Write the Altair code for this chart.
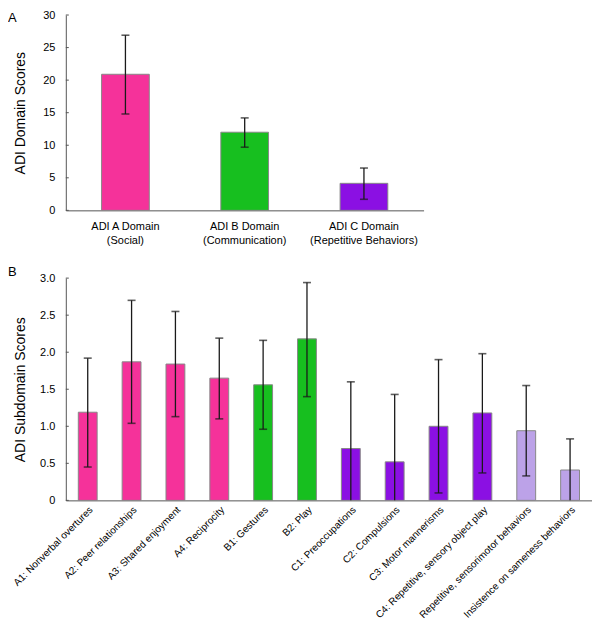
import altair as alt
import pandas as pd

FONT = "Liberation Sans, Arial, sans-serif"

# ---- Panel A data ----
domains = ["ADI A Domain|(Social)", "ADI B Domain|(Communication)", "ADI C Domain|(Repetitive Behaviors)"]
domain_group = ["A", "B", "C"]
domain_mean = [20.9, 12.0, 4.15]
domain_lo = [14.8, 9.7, 1.7]
domain_hi = [26.9, 14.2, 6.5]
ticks_a = [0, 5, 10, 15, 20, 25, 30]

# ---- Panel B data ----
subdomains = [
    "A1: Nonverbal overtures", "A2: Peer relationships", "A3: Shared enjoyment",
    "A4: Reciprocity", "B1: Gestures", "B2: Play", "C1: Preoccupations",
    "C2: Compulsions", "C3: Motor mannerisms", "C4: Repetitive, sensory object play",
    "Repetitive, sensorimotor behaviors", "Insistence on sameness behaviors",
]
sub_group = ["A", "A", "A", "A", "B", "B", "C", "C", "C", "C", "D", "D"]
sub_mean = [1.19, 1.87, 1.84, 1.65, 1.56, 2.18, 0.70, 0.52, 1.00, 1.18, 0.94, 0.41]
sub_lo = [0.45, 1.04, 1.13, 1.10, 0.96, 1.40, 0.0, 0.0, 0.10, 0.37, 0.33, 0.0]
sub_hi = [1.92, 2.70, 2.55, 2.19, 2.16, 2.94, 1.60, 1.43, 1.90, 1.98, 1.55, 0.83]
ticks_b = [0, 0.5, 1.0, 1.5, 2.0, 2.5, 3.0]

groups = ["A", "B", "C", "D"]
group_colors = ["#F5329A", "#17BF1F", "#8B10E3", "#BCA2E8"]
color_scale = alt.Scale(domain=groups, range=group_colors)

ERR = "#1a1a1a"
LEFT = 58  # distance from the page content edge to the plot's left edge


def panel(cats, grp, mean, lo, hi, ticks, letter, ytitle, ymax, width, height,
          pad_inner, xaxis, ylabel_expr, letter_y):
    df = pd.DataFrame({"cat": cats, "grp": grp, "mean": mean, "lo": lo, "hi": hi})
    xscale = alt.Scale(paddingInner=pad_inner, paddingOuter=pad_inner / 2)
    yscale = alt.Scale(domain=[0, ymax], nice=False, zero=True)
    yaxis = alt.Axis(values=ticks, title=ytitle, ticks=False, tickSize=0,
                     labelPadding=11, titleX=-(LEFT - 13), titleBaseline="middle",
                     labelExpr=ylabel_expr, grid=False, labelOverlap=False)

    def X():
        return alt.X("cat:N", sort=cats, title=None, scale=xscale, axis=xaxis)

    def Y(field):
        return alt.Y(field, scale=yscale, axis=yaxis, title=ytitle)

    base = alt.Chart(df)
    bars = base.mark_bar(stroke="#888888", strokeWidth=1).encode(
        x=X(), y=Y("mean:Q"),
        color=alt.Color("grp:N", scale=color_scale, legend=None),
    )
    rule = base.mark_rule(color=ERR, strokeWidth=1.3).encode(
        x=X(), y=Y("lo:Q"), y2="hi:Q")
    cap_hi = base.mark_tick(color=ERR, thickness=1.6, size=8).encode(
        x=X(), y=Y("hi:Q"))
    cap_lo = base.transform_filter("datum.lo > 0").mark_tick(
        color=ERR, thickness=1.6, size=8).encode(
        x=X(), y=Y("lo:Q"))
    tk = alt.Chart(pd.DataFrame({"v": ticks})).mark_rule(
        color="#555555", strokeWidth=1).encode(
        y=Y("v:Q"), x=alt.value(0), x2=alt.value(3))
    lab = alt.Chart(pd.DataFrame({"t": [letter]})).mark_text(
        align="left", baseline="top", fontSize=13, font=FONT, color="black").encode(
        text="t:N", x=alt.value(-LEFT), y=alt.value(letter_y))
    return alt.layer(bars, rule, cap_hi, cap_lo, tk, lab).properties(
        width=width, height=height)


axis_a = alt.Axis(labelExpr="split(datum.label, '|')", labelAngle=0, ticks=False,
                  tickSize=0, labelPadding=10, labelLineHeight=14, labelFontSize=11)
axis_b = alt.Axis(labelAngle=-45, ticks=False, tickSize=0, labelPadding=4,
                  labelFontSize=10, labelLimit=400)

chart_a = panel(domains, domain_group, domain_mean, domain_lo, domain_hi, ticks_a,
                "A", "ADI Domain Scores", 30, 359, 196, 0.6, axis_a, "datum.label", -3)
chart_b = panel(subdomains, sub_group, sub_mean, sub_lo, sub_hi, ticks_b,
                "B", "ADI Subdomain Scores", 3, 528, 223, 0.57, axis_b,
                "datum.value == 0 ? '0' : format(datum.value, '.1f')", -12)

chart = alt.vconcat(chart_a, chart_b, spacing=68, bounds="flush").properties(
    padding={"left": 0, "top": 0, "right": 0, "bottom": 0}
).configure_view(stroke=None).configure_axis(
    labelFont=FONT, titleFont=FONT, labelFontSize=11, titleFontSize=14,
    titleFontWeight="normal", labelColor="black", titleColor="black",
    domainColor="#555555", domainWidth=1,
)

chart.save("out.html", embed_options={"renderer": "svg", "actions": False})
